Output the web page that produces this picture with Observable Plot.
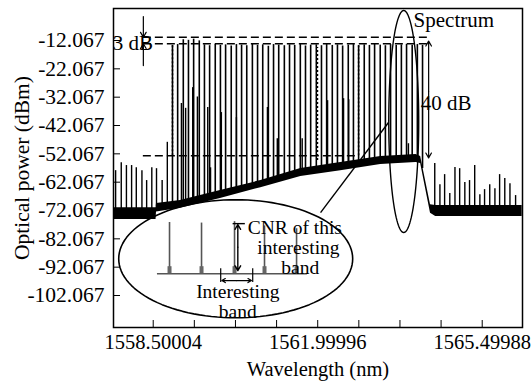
<!DOCTYPE html>
<html><head><meta charset="utf-8">
<script src="https://cdn.jsdelivr.net/npm/d3@7"></script>
<script src="https://cdn.jsdelivr.net/npm/@observablehq/plot@0.6"></script>
<style>body{margin:0;background:#fff}</style>
</head><body><div id="chart"></div>
<script>
// ---- axes ----
const yTicks = [-102.067, -92.067, -82.067, -72.067, -62.067, -52.067, -42.067, -32.067, -22.067, -12.067];
const xTicks = [1558.50004, 1559.37502, 1560.25000, 1561.12498, 1561.99996, 1562.87494, 1563.74992, 1564.62490, 1565.49988];
const xTickLabels = ["1558.50004", "", "", "", "1561.99996", "", "", "", "1565.49988"];

// ---- main WDM channels (nm, dBm) ----
const channelNm = [1558.91, 1559.02, 1559.14, 1559.25, 1559.36, 1559.48, 1559.59, 1559.70, 1559.82, 1559.93,
  1560.04, 1560.16, 1560.27, 1560.38, 1560.49, 1560.61, 1560.72, 1560.83, 1560.95, 1561.06,
  1561.17, 1561.29, 1561.40, 1561.51, 1561.63, 1561.74, 1561.85, 1561.97, 1562.08, 1562.19,
  1562.31, 1562.42, 1562.53, 1562.65, 1562.76, 1562.87, 1562.99, 1563.10, 1563.21, 1563.33,
  1563.44, 1563.55, 1563.67, 1563.78, 1563.89, 1564.01, 1564.12, 1564.23];
const channelDb = [-13.8, -13.5, -11.8, -12.0, -11.6, -12.2, -13.6, -13.9, -13.4, -13.8,
  -13.6, -14.0, -13.5, -13.7, -13.9, -13.4, -13.8, -13.6, -14.1, -13.5,
  -13.7, -13.9, -13.6, -13.8, -13.5, -14.0, -13.7, -13.6, -13.9, -13.5,
  -13.8, -13.6, -14.0, -13.7, -13.5, -13.9, -13.6, -13.8, -13.4, -13.7,
  -13.9, -13.5, -13.8, -13.6, -13.4, -13.7, -13.5, -13.8];

// ---- weaker in-band products ----
const spurNm = [1558.80, 1559.10, 1559.19, 1559.34, 1559.44, 1559.66, 1559.72, 1559.95, 1560.27, 1560.93, 1561.14, 1561.67, 1562.21, 1562.55, 1562.66, 1563.93];
const spurDb = [-48, -34.3, -36, -28.7, -32, -35.7, -57, -37.5, -39.3, -35.7, -46.7, -46.7, -33.3, -32.6, -33, -48.5];

// ---- out-of-band side lines ----
const sideNm = [1557.70, 1557.82, 1557.93, 1558.04, 1558.14, 1558.26, 1558.36, 1558.47, 1558.57, 1558.69,
  1564.49, 1564.60, 1564.70, 1564.81, 1564.92, 1565.02, 1565.13, 1565.23, 1565.34, 1565.45, 1565.55, 1565.66, 1565.77, 1565.87, 1565.98, 1566.09, 1566.21];
const sideDb = [-58.0, -55.2, -56.2, -56.2, -57.0, -58.0, -61.5, -57.0, -57.3, -61.5,
  -55.5, -63.0, -59.4, -66.1, -56.9, -57.3, -62.2, -61.5, -56.2, -66.5, -64.7, -63.0, -64.4, -59.4, -60.8, -62.6, -66.8];

// ---- noise / ASE floor band (upper and lower edge) ----
const aseNm    = [1557.66, 1558.56, 1558.57, 1559.08, 1559.93, 1560.79, 1561.64, 1562.49, 1563.34, 1564.09, 1564.19, 1564.40, 1564.51, 1566.35];
const aseUpper = [-71.1, -71.1, -69.6, -68.5, -65.0, -61.5, -57.2, -55.1, -53.0, -52.3, -53.0, -70.0, -70.3, -70.3];
const aseLower = [-75.2, -75.2, -72.6, -71.3, -67.8, -64.0, -60.1, -58.0, -55.8, -55.1, -55.5, -73.0, -74.2, -74.2];

// ---- inset (zoomed band) ----
const insetPeakNm = [1558.847, 1559.528, 1560.23, 1560.868, 1561.55];
const insetPeakDb = [-76.3, -76.5, -76.0, -77.5, -78.5];
const insetBase = -94.4;
const insetBaseNm = [1558.59, 1561.78];

// ---- annotations ----
const dashed3dB = [-10.9, -13.2];
const dashedNoise = -52.7;
const dottedNm = [1558.91, 1561.995, 1562.87];
const dottedTop = [-13.2, -14.5, -13.2];
const dottedBottom = [-52.7, -54.4, -52.7];
const labelsStart = [
  {x: 1557.64, y: -13.1, text: "3 dB"},
  {x: 1564.19, y: -34.3, text: "40 dB"},
  {x: 1564.04, y: -5.0, text: "Spectrum"}
];
const insetLabelsStart = [
  {x: 1560.51, y: -78.1, text: "CNR of this"}
];
const insetLabelsMiddle = [
  {x: 1561.59, y: -85.2, text: "interesting"},
  {x: 1561.63, y: -92.3, text: "band"},
  {x: 1560.30, y: -100.6, text: "Interesting"},
  {x: 1560.30, y: -107.8, text: "band"}
];

function floorAt(nm) {
  let i = d3.bisectRight(aseNm, nm);
  i = Math.max(1, Math.min(aseNm.length - 1, i));
  const t = (nm - aseNm[i - 1]) / (aseNm[i] - aseNm[i - 1]);
  return aseUpper[i - 1] + t * (aseUpper[i] - aseUpper[i - 1]);
}
function ellipse(cx, cy, rx, ry) {
  return d3.range(0, 361, 3).map(a => ({x: cx + rx * Math.cos(a * Math.PI / 180), y: cy + ry * Math.sin(a * Math.PI / 180)}));
}

const channels = channelNm.map((x, i) => ({x, y2: channelDb[i], y1: floorAt(x) - 1}));
const spurs = spurNm.map((x, i) => ({x, y2: spurDb[i], y1: floorAt(x) - 1}));
const sides = sideNm.map((x, i) => ({x, y2: sideDb[i], y1: floorAt(x) - 1}));
const ase = aseNm.map((x, i) => ({x, y1: aseLower[i], y2: aseUpper[i]}));
const insetPeaks = insetPeakNm.map((x, i) => ({x, y: insetPeakDb[i]}));
const labelMap = new Map(xTicks.map((d, i) => [d, xTickLabels[i]]));

const F = "Liberation Serif";
const chart = Plot.plot({
  width: 531, height: 383,
  marginLeft: 113, marginRight: 9, marginTop: 8, marginBottom: 56,
  style: {fontFamily: F, fontSize: "21px", background: "white", color: "black"},
  x: {domain: [1557.655, 1566.357]},
  y: {domain: [-113.36, -0.77]},
  marks: [
    Plot.ruleX(channels, {x: "x", y1: "y1", y2: "y2", stroke: "black", strokeWidth: 1.6}),
    Plot.ruleX(spurs, {x: "x", y1: "y1", y2: "y2", stroke: "black", strokeWidth: 1.4}),
    Plot.ruleX(sides, {x: "x", y1: "y1", y2: "y2", stroke: "black", strokeWidth: 1.4}),
    Plot.areaY(ase, {x: "x", y1: "y1", y2: "y2", fill: "black"}),
    // dashed level markers
    Plot.ruleY(dashed3dB, {x1: 1558.29, x2: 1564.34, stroke: "black", strokeWidth: 1.5, strokeDasharray: "8,4"}),
    Plot.ruleY([dashedNoise], {x1: 1558.29, x2: 1562.87, stroke: "black", strokeWidth: 1.5, strokeDasharray: "8,4"}),
    Plot.ruleX(dottedNm, {x: d => d, y1: (d, i) => dottedBottom[i], y2: (d, i) => dottedTop[i], stroke: "black", strokeWidth: 1.5, strokeDasharray: "2,2"}),
    // 3 dB arrows
    Plot.arrow([{x: 1558.29, a: -3.6, b: -10.9}, {x: 1558.29, a: -20.9, b: -13.2}], {x1: "x", x2: "x", y1: "a", y2: "b", stroke: "black", strokeWidth: 1.2, headLength: 7}),
    // 40 dB arrows
    Plot.arrow([{x: 1564.36, a: -30, b: -12.3}, {x: 1564.36, a: -30, b: -53.5}], {x1: "x", x2: "x", y1: "a", y2: "b", stroke: "black", strokeWidth: 1.2, headLength: 7}),
    // ellipses and connector
    Plot.line(ellipse(1563.83, -40.66, 0.319, 39.18), {x: "x", y: "y", stroke: "black", strokeWidth: 1.4}),
    Plot.line(ellipse(1560.255, -89.1, 2.489, 20.83), {x: "x", y: "y", stroke: "black", strokeWidth: 1.6}),
    Plot.link([{x1: 1562.06, y1: -72.8, x2: 1563.506, y2: -41.0}], {x1: "x1", y1: "y1", x2: "x2", y2: "y2", stroke: "black", strokeWidth: 1.4}),
    // inset spectrum
    Plot.ruleY([insetBase], {x1: insetBaseNm[0], x2: insetBaseNm[1], stroke: "#555", strokeWidth: 1.6}),
    Plot.ruleX(insetPeaks, {x: "x", y1: insetBase, y2: "y", stroke: "#555", strokeWidth: 1.6}),
    Plot.ruleX(insetPeaks, {x: "x", y1: insetBase, y2: insetBase + 2.5, stroke: "#666", strokeWidth: 4}),
    // CNR arrow and bar
    Plot.arrow([{x: 1560.30, a: -85, b: -77.0}, {x: 1560.30, a: -85, b: -93.3}], {x1: "x", x2: "x", y1: "a", y2: "b", stroke: "black", strokeWidth: 1.4, headLength: 6}),
    Plot.ruleY([-76.7], {x1: 1560.20, x2: 1560.46, stroke: "black", strokeWidth: 1.4}),
    // interesting band markers
    Plot.ruleX([1559.936, 1560.617], {y1: -92.6, y2: -97.5, stroke: "black", strokeWidth: 1.2}),
    Plot.arrow([{a: 1560.27, b: 1559.96}, {a: 1560.27, b: 1560.59}], {x1: "a", x2: "b", y1: -96.8, y2: -96.8, stroke: "black", strokeWidth: 1.2, headLength: 5}),
    // texts
    Plot.text(labelsStart, {x: "x", y: "y", text: "text", textAnchor: "start", fontSize: 21, fontFamily: F, fill: "black"}),
    Plot.text(insetLabelsStart, {x: "x", y: "y", text: "text", textAnchor: "start", fontSize: 19.5, fontFamily: F, fill: "black"}),
    Plot.text(insetLabelsMiddle, {x: "x", y: "y", text: "text", textAnchor: "middle", fontSize: 19.5, fontFamily: F, fill: "black"}),
    // axes
    Plot.axisY({ticks: yTicks, tickFormat: d => d.toFixed(3), tickSize: -7, tickPadding: 16, fontSize: 21.5, label: "Optical power (dBm)", labelAnchor: "center", labelArrow: "none", labelOffset: 100}),
    Plot.axisX({ticks: xTicks, tickFormat: d => labelMap.get(d) ?? "", tickSize: -7, tickPadding: 14, fontSize: 20.5, label: "Wavelength (nm)", labelAnchor: "center", labelArrow: "none", labelOffset: 48}),
    Plot.frame({stroke: "black", strokeWidth: 1.5})
  ]
});
document.getElementById("chart").append(chart);
</script>
</body></html>
